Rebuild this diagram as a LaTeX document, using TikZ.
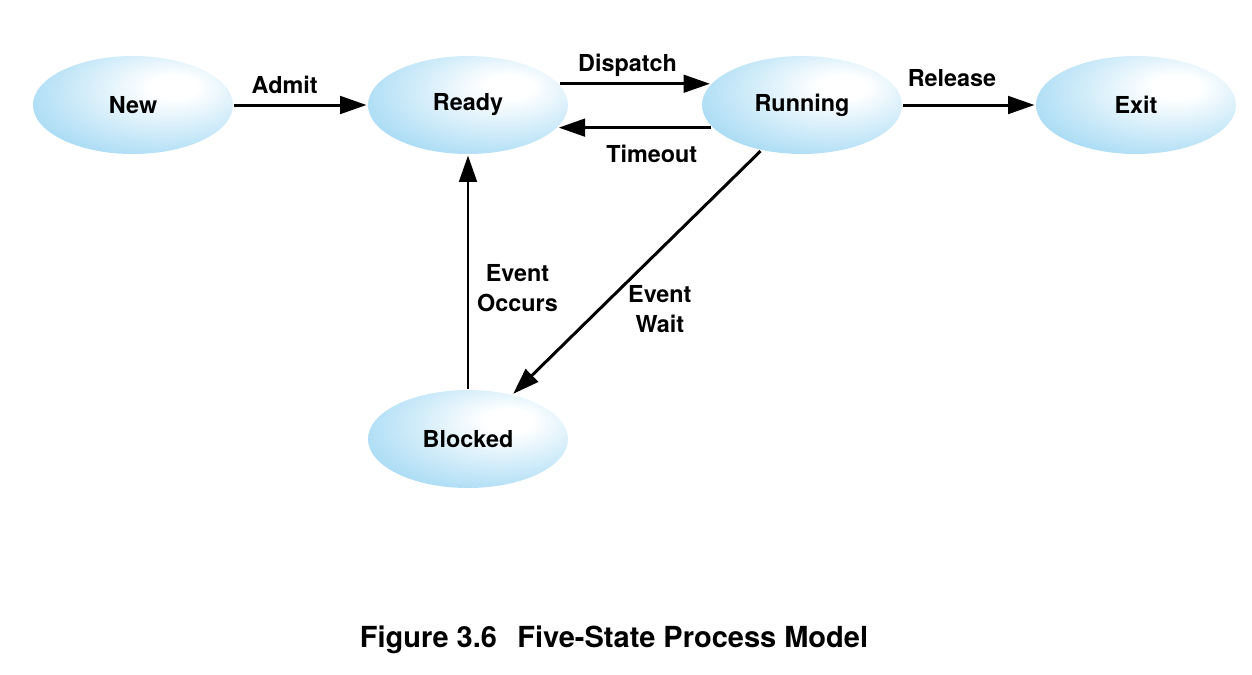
\documentclass[tikz,border=0pt]{standalone}
\usepackage{fontspec}
\setmainfont{TeX Gyre Heros}
\usetikzlibrary{shapes.geometric,arrows.meta}
\definecolor{stateblue}{RGB}{98,190,236}
\pgfdeclareradialshading{stateshade}{\pgfpoint{11bp}{10bp}}{color(0bp)=(white); color(6bp)=(white); color(58bp)=(stateblue); color(80bp)=(stateblue)}
\tikzset{
	state/.style={ellipse,shading=stateshade,minimum width=4cm,minimum height=1.96cm,inner sep=0pt,font=\bfseries\fontsize{13.3}{15.5}\selectfont},
	lbl/.style={font=\bfseries\fontsize{13.3}{17}\selectfont,align=center}
}
\begin{document}
\begin{tikzpicture}[x=0.02cm,y=-0.02cm,>={Triangle[length=15pt,width=10pt]},line width=1.7pt]
			\useasboundingbox (0,0) rectangle (1252,674);
			\node[state] (new) at (133,105) {New};
			\node[state] (ready) at (468,105) {Ready};
			\node[state] (running) at (802,105) {Running};
			\node[state] (exit) at (1136,105) {Exit};
			\node[state] (blocked) at (468,439) {Blocked};
			\draw[->] (new.east)--(ready.west) node[lbl,pos=0.38,above=2pt]{Admit};
			\draw[->] (ready.13)--(running.167) node[lbl,pos=0.45,above=0pt]{Dispatch};
			\draw[->] (running.194.6)--(ready.-14.6) node[lbl,pos=0.39,below=6pt]{Timeout};
			\draw[->] (running.east)--(exit.west) node[lbl,pos=0.37,above=6pt]{Release};
			\draw[->] (blocked.north)--(ready.south) node[lbl,pos=0.43,right=1pt]{Event\\Occurs};
			\draw[->] (running.228)--(blocked.45) node[lbl,pos=0.65,right=12pt]{Event\\Wait};
			\node[font=\bfseries\fontsize{16.5}{19}\selectfont] (caption) at (614,640) {Figure 3.6\hspace{0.7em}Five-State Process Model};
	\end{tikzpicture}
\end{document}
